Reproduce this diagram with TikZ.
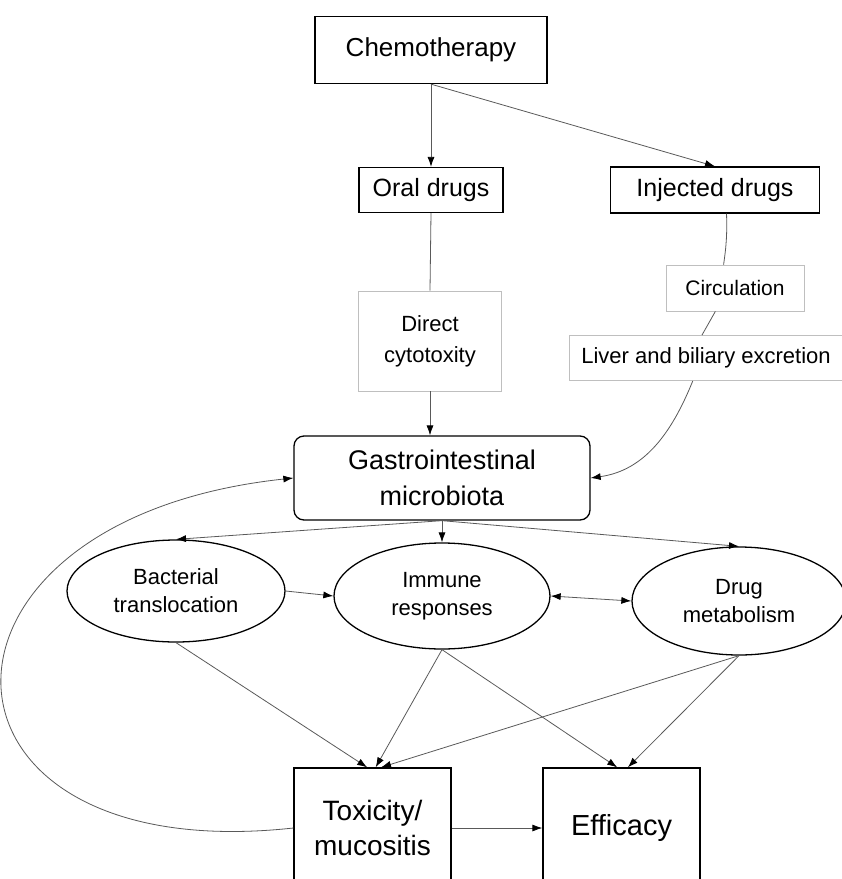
\documentclass[tikz,border=0pt]{standalone}
\usepackage{fontspec}
\setmainfont{Liberation Sans}
\usetikzlibrary{arrows.meta,shapes.geometric}

\begin{document}
\begin{tikzpicture}[x=1pt, y=-1pt,
    kasten/.style={
      rectangle,
      draw,
      line width=1.3pt,
      inner sep=0pt,
      align=center},
    grauKasten/.style={
      rectangle,
      draw=black!25,
      line width=0.8pt,
      inner sep=0pt,
      align=center},
    oval/.style={
      ellipse,
      draw,
      line width=1.3pt,
      inner sep=0pt,
      align=center},
    pfeil/.style={
      draw=black!65,
      line width=0.8pt,
      -{Latex[length=10pt,width=7pt,color=black]}},
    doppelpfeil/.style={
      draw=black!65,
      line width=0.8pt,
      {Latex[length=10pt,width=7pt,color=black]}-{Latex[length=10pt,width=7pt,color=black]}},
    linie/.style={
      draw=black!65,
      line width=0.8pt}
    ]
  \useasboundingbox (0,0) rectangle (842,879);

  \node at (431,50) (chemo) [kasten, minimum width=232pt, minimum height=67pt, font=\fontsize{26}{30}\selectfont] {Chemotherapy};

  \node at (431,190) (oral) [kasten, minimum width=144pt, minimum height=45pt, font=\fontsize{25}{28}\selectfont] {Oral drugs};
  \node at (715,190) (injiziert) [kasten, minimum width=209pt, minimum height=46pt, font=\fontsize{25}{28}\selectfont] {Injected drugs};

  \node at (430,341) (zytotox) [grauKasten, minimum width=143pt, minimum height=100pt, font=\fontsize{22}{31}\selectfont] {Direct\\cytotoxity};
  \node at (735,288) (kreislauf) [grauKasten, minimum width=138pt, minimum height=46pt, font=\fontsize{21}{24}\selectfont] {Circulation};
  \node at (706,358) (leber) [grauKasten, minimum width=274pt, minimum height=45pt, font=\fontsize{22}{24}\selectfont] {Liver and biliary excretion};

  \node at (442,478) (darm) [kasten, rounded corners=10pt, minimum width=296pt, minimum height=84pt, font=\fontsize{27}{36}\selectfont] {Gastrointestinal\\microbiota};

  \node at (176,591) (bakterien) [oval, minimum width=218pt, minimum height=102pt, font=\fontsize{22}{28}\selectfont] {Bacterial\\translocation};
  \node at (442,596) (immun) [oval, minimum width=216pt, minimum height=106pt, font=\fontsize{22}{28}\selectfont] {Immune\\responses};
  \node at (739,601) (metabolismus) [oval, minimum width=214pt, minimum height=108pt, font=\fontsize{22}{28}\selectfont] {Drug\\metabolism};

  \node at (372.5,828) (toxizitaet) [kasten, minimum width=157pt, minimum height=120pt, font=\fontsize{28}{35}\selectfont] {Toxicity/\\mucositis};
  \node at (621.5,828) (wirkung) [kasten, minimum width=157pt, minimum height=120pt, font=\fontsize{29}{35}\selectfont] {Efficacy};

  \path (chemo.south) edge [pfeil] (oral.north);
  \path (chemo.south) edge [pfeil] (injiziert.north);

  \path (oral.south) edge [linie] (zytotox.north);
  \path (zytotox.south) edge [pfeil] (zytotox.south |- darm.north);

  \path (injiziert.296) edge [linie, bend left=5] (kreislauf.116);
  \path (kreislauf.230) edge [linie] (leber.100);
  \path (leber.240) edge [pfeil, out=-112, in=8] (darm.east);

  \path (darm.south) edge [pfeil] (bakterien.north);
  \path (darm.south) edge [pfeil] (immun.north);
  \path (darm.south) edge [pfeil] (metabolismus.north);

  \path (bakterien.east) edge [pfeil] (immun.west);
  \path (immun.east) edge [doppelpfeil] (metabolismus.west);

  \path (bakterien.south) edge [pfeil] (toxizitaet.95);
  \path (immun.south) edge [pfeil] (toxizitaet.87);
  \path (metabolismus.south) edge [pfeil] (toxizitaet.82);
  \path (immun.south) edge [pfeil] (wirkung.94);
  \path (metabolismus.south) edge [pfeil] (wirkung.84);

  \path (toxizitaet.east) edge [pfeil] (wirkung.west);
  \draw [pfeil] (toxizitaet.west) .. controls (-90,870) and (-100,520) .. (darm.west);

\end{tikzpicture}
\end{document}
